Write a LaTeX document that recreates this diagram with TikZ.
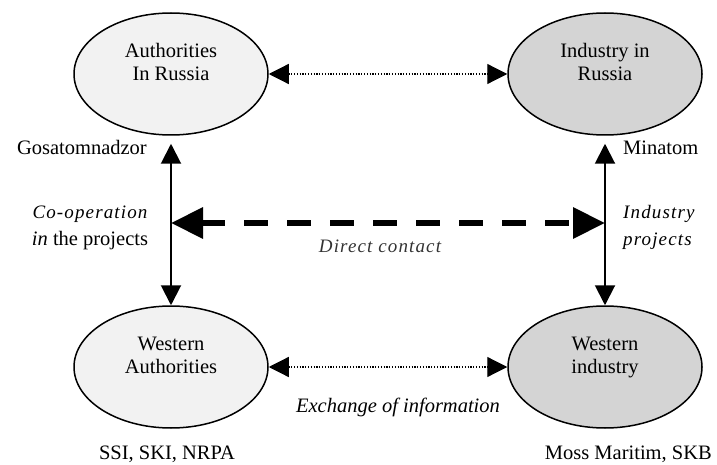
\documentclass[tikz,border=0pt]{standalone}
\usepackage{fontspec}
\setmainfont{Liberation Serif}
\newfontfamily\spacedfont[LetterSpace=6]{Liberation Serif}
\usepackage[dvipsnames]{xcolor}
\usetikzlibrary{arrows.meta,shapes.geometric}
\definecolor{lightfill}{HTML}{F2F2F2}
\definecolor{darkfill}{HTML}{D4D4D4}
\newcommand{\spacedit}[1]{{\spacedfont\itshape\fontsize{19}{27}\selectfont #1}}

\begin{document}
\begin{tikzpicture}[x=1pt,y=1pt,<->,>={Triangle[length=20pt,width=20pt]},auto,node distance=293pt,
    main node/.style={ellipse,draw,line width=1.5pt,minimum width=194pt,minimum height=122pt,inner sep=0pt,align=center,text depth=24pt,font=\fontsize{20.5}{23}\selectfont},
    plain label/.style={inner sep=0pt,font=\fontsize{20.5}{27}\selectfont},
    dotted line/.style={line width=1.2pt,dash pattern=on 1.2pt off 1.6pt},
    solid line/.style={line width=2pt},
    dashed arrow/.style={line width=6.5pt,dash pattern=on 24pt off 19pt,{Triangle[length=32pt,width=30pt]}-{Triangle[length=32pt,width=30pt]}}]
    \useasboundingbox (0,0) rectangle (717,-465);

    \node[main node,fill=lightfill] (1) at (171,-74) {Authorities\\In Russia};
    \node[main node,fill=darkfill] (2) [right of = 1, xshift = 141] {Industry in\\Russia};
    \node[main node,fill=lightfill] (3) [below of = 1] {Western\\Authorities};
    \node[main node,fill=darkfill] (4) [below of = 2] {Western\\industry};

    \coordinate (5) at ([yshift=-149pt]1.center);
    \coordinate (6) at ([yshift=-149pt]2.center);

    \path[dotted line]
        (1) edge (2)
        (3) edge (4)
        ;
    \path[solid line]
        (1) edge[shorten <=8pt] (3)
        (2) edge[shorten <=8pt] (4)
        ;
    \draw[dashed arrow] (5) -- (6);

    \node[plain label,anchor=base east] (7) at (147,-155) {Gosatomnadzor};
    \node[plain label,anchor=base west] (8) at (623,-155) {Minatom};
    \node[plain label,align=center] (9) at (90,-227.5) {\spacedit{Co-operation}\\\textit{in} the projects};
    \node[plain label,align=left,anchor=west] (10) at (623,-227.5) {\spacedit{Industry}\\\spacedit{projects}};
    \node[plain label,anchor=base,text=black!80] (11) at (380,-252) {\spacedit{Direct contact}};
    \node[plain label,anchor=base] (12) at (398,-412) {\textit{Exchange of information}};
    \node[plain label,anchor=base] (13) at (167,-459) {SSI, SKI, NRPA};
    \node[plain label,anchor=base east] (14) at (712,-459) {Moss Maritim, SKB};
\end{tikzpicture}
\end{document}
